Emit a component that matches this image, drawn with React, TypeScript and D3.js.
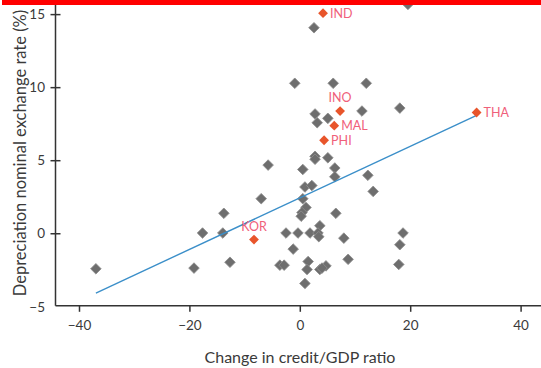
import React from "react";
import * as d3 from "d3";

const grayX = [19.5, 2.48, -1.0, 5.96, 11.95, 2.67, 4.99, 3.06, 11.17, 18.03, 2.67, 2.67, 4.99, -5.83, 0.45, 6.25, 6.25, 12.24, 13.2, 0.84, 2.09, -7.08, 0.45, 1.03, 0.31, 0.16, -13.85, 6.44, -14.04, -17.71, -2.59, -0.42, 1.76, 3.54, 3.2, 3.35, 7.89, 18.61, 18.03, 17.84, -1.29, 8.66, -3.7, -2.93, 1.42, 1.22, 3.54, 4.65, 3.93, 0.84, -37.03, -19.26, -12.74];
const grayY = [15.7, 14.1, 10.3, 10.3, 10.3, 8.2, 7.9, 7.6, 8.4, 8.6, 5.3, 5.1, 5.2, 4.7, 4.4, 4.5, 3.9, 4.0, 2.9, 3.2, 3.3, 2.4, 2.4, 1.8, 1.45, 1.2, 1.4, 1.4, 0.05, 0.05, 0.05, 0.05, 0.05, 0.55, 0.05, -0.2, -0.3, 0.05, -0.75, -2.1, -1.05, -1.75, -2.15, -2.15, -1.9, -2.45, -2.45, -2.2, -2.35, -3.4, -2.4, -2.35, -1.95];

const hlNames = ["IND", "INO", "MAL", "PHI", "KOR", "THA"];
const hlX = [4.12, 7.21, 6.15, 4.31, -8.39, 31.94];
const hlY = [15.1, 8.4, 7.4, 6.4, -0.4, 8.3];
// label placement: "right" or "above"
const hlPos = ["right", "above", "right", "right", "above", "right"];

const trendX = [-37.03, 31.94];
const trendY = [-4.06, 8.1];

const xTicks = [-40, -20, 0, 20, 40];
const yTicks = [-5, 0, 5, 10, 15];

const xTitle = "Change in credit/GDP ratio";
const yTitle = "Depreciation nominal exchange rate (%)";

export default function App() {
  const W = 541, H = 368;
  const x = d3.scaleLinear().domain([-40, 40]).range([79.5, 521.1]);
  const y = d3.scaleLinear().domain([-5, 16]).range([306.8, 0]);
  const axisX = 55.5;
  const axisY = 305.8;
  const diamond = d3.symbol().type(d3.symbolSquare).size(56)();
  const diamondO = d3.symbol().type(d3.symbolSquare).size(48)();
  const line = d3.line<number>().x((d, i) => x(trendX[i])).y((d, i) => y(trendY[i]));
  const font = "Lato, 'Open Sans', sans-serif";
  const textCol = "#3a3a3a";
  const labCol = "#f0607a";

  return (
    <svg width={W} height={H} style={{ position: "absolute", left: 0, top: 0 }} fontFamily={font}>
      <rect x={0} y={0} width={W} height={H} fill="#ffffff" />
      {/* axes */}
      <line x1={axisX} x2={axisX} y1={0} y2={axisY} stroke="#333" strokeWidth={1.5} />
      <line x1={axisX} x2={W} y1={axisY} y2={axisY} stroke="#333" strokeWidth={1.5} />
      {yTicks.map((t) => (
        <g key={"yt" + t}>
          {t !== -5 && (
            <line x1={axisX - 5} x2={axisX + 5} y1={y(t)} y2={y(t)} stroke="#333" strokeWidth={1.5} />
          )}
          <text x={45} y={y(t)} dy="0.35em" textAnchor="end" fontSize={13.5} fill={textCol}>
            {t < 0 ? "\u2212" + Math.abs(t) : t}
          </text>
        </g>
      ))}
      {xTicks.map((t) => (
        <g key={"xt" + t}>
          <line x1={x(t)} x2={x(t)} y1={axisY} y2={axisY + 6} stroke="#333" strokeWidth={1.5} />
          <text x={x(t)} y={330} textAnchor="middle" fontSize={13.5} fill={textCol}>
            {t < 0 ? "\u2212" + Math.abs(t) : t}
          </text>
        </g>
      ))}
      <text x={300} y={363} textAnchor="middle" fontSize={16} fill={textCol}>
        {xTitle}
      </text>
      <text
        transform={`translate(26, ${153}) rotate(-90)`}
        textAnchor="middle"
        fontSize={16.5}
        fill={textCol}
      >
        {yTitle}
      </text>
      {/* gray points */}
      {grayX.map((gx, i) => (
        <path
          key={"g" + i}
          d={diamond}
          transform={`translate(${x(gx)},${y(grayY[i])}) rotate(45)`}
          fill="#6e6e6e"
          stroke="#8c8c8c"
          strokeWidth={0.8}
        />
      ))}
      {/* trend line */}
      <path d={line(trendX) || ""} fill="none" stroke="#3b8fc9" strokeWidth={1.4} />
      {/* highlighted points */}
      {hlNames.map((n, i) => (
        <g key={n}>
          <path
            d={diamondO}
            transform={`translate(${x(hlX[i])},${y(hlY[i])}) rotate(45)`}
            fill="#e8552b"
          />
          {hlPos[i] === "right" ? (
            <text x={x(hlX[i]) + 7} y={y(hlY[i])} dy="0.35em" fontSize={12.5} fill={labCol}>
              {n}
            </text>
          ) : (
            <text x={x(hlX[i])} y={y(hlY[i]) - 9} textAnchor="middle" fontSize={12.5} fill={labCol}>
              {n}
            </text>
          )}
        </g>
      ))}
      {/* top red bar */}
      <rect x={2} y={0} width={W - 2} height={5} fill="#ff0000" />
    </svg>
  );
}
